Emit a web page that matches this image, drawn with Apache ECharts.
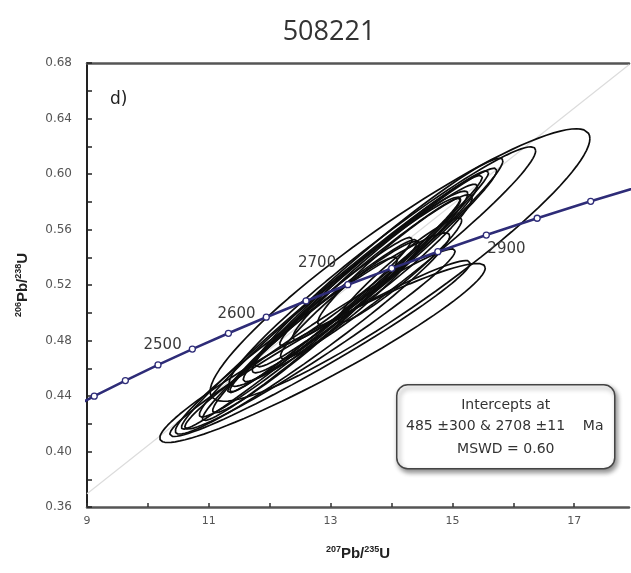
<!DOCTYPE html>
<html>
<head>
<meta charset="utf-8">
<script src="https://cdn.jsdelivr.net/npm/echarts@6/dist/echarts.min.js"></script>
<style>html,body{margin:0;padding:0;background:#fff}#c{width:631px;height:573px}</style>
</head>
<body>
<div id="c"></div>
<script>
// Concordia curve points (age in Ma, 207Pb/235U, 206Pb/238U)
const concAges = [2300, 2350, 2400, 2450, 2500, 2550, 2600, 2650, 2700, 2750, 2800, 2850, 2900, 2950, 3000];
const concX = [8.633, 9.119, 9.630, 10.166, 10.730, 11.322, 11.944, 12.597, 13.283, 14.004, 14.761, 15.557, 16.392, 17.271, 18.193];
const concY = [0.4287, 0.4399, 0.4511, 0.4624, 0.4738, 0.4852, 0.4968, 0.5085, 0.5202, 0.5320, 0.5440, 0.5560, 0.5681, 0.5803, 0.5926];
const labelledAges = [2500, 2600, 2700, 2900];

// Discordia (reference) line end points
const discX = [9, 17.9];
const discY = [0.3695, 0.6787];

// Error ellipses: centre, sigma x, sigma y, correlation
const ellCx  = [12.867, 14.140, 13.852, 13.795, 13.828, 12.703, 12.990, 13.236, 13.483, 13.647, 12.826, 12.580, 13.893, 14.057, 13.319, 13.072, 12.662, 14.140, 12.826, 12.826];
const ellCy  = [0.4710, 0.5344, 0.5333, 0.5362, 0.5377, 0.4850, 0.5041, 0.5128, 0.5222, 0.5272, 0.4984, 0.4840, 0.5366, 0.5380, 0.5092, 0.5092, 0.4876, 0.5308, 0.4742, 0.4811];
const ellSx  = [2.673, 3.118, 2.516, 2.034, 1.663, 2.253, 2.146, 1.891, 1.770, 2.083, 1.515, 1.517, 1.517, 1.268, 1.141, 2.522, 1.767, 1.014, 2.467, 2.221];
const ellSy  = [0.0645, 0.0982, 0.0863, 0.0752, 0.0614, 0.0725, 0.0793, 0.0698, 0.0655, 0.0770, 0.0560, 0.0561, 0.0561, 0.0471, 0.0423, 0.0931, 0.0653, 0.0376, 0.0634, 0.0649];
const ellRho = [0.950, 0.928, 0.968, 0.975, 0.980, 0.970, 0.980, 0.987, 0.971, 0.980, 0.980, 0.971, 0.971, 0.955, 0.955, 0.987, 0.980, 0.955, 0.972, 0.977];

// Axis ticks
const yTicks = [0.36, 0.40, 0.44, 0.48, 0.52, 0.56, 0.60, 0.64, 0.68];
const xTickLabels = [9, 11, 13, 15, 17];

const chart = echarts.init(document.getElementById('c'), null, {renderer: 'canvas'});

const FONT = 'DejaVu Sans, Verdana, sans-serif';

const labelStyle = {
  2500: {position: 'left', distance: 7, offset: [0, -4]},
  2600: {position: 'left', distance: 7, offset: [0, -3]},
  2700: {position: 'left', distance: 8, offset: [0, -22]},
  2900: {position: 'left', distance: 8, offset: [0, 31]}
};

const concData = concAges.map((a, i) => {
  const item = {value: [concX[i], concY[i]]};
  if (labelledAges.indexOf(a) >= 0) {
    item.label = Object.assign({show: true, formatter: String(a), color: '#3a3a3a', fontSize: 15, fontFamily: FONT}, labelStyle[a]);
  }
  return item;
});

const N = 100;
const ellSeries = ellCx.map((cx, k) => {
  const pts = [];
  const s = Math.sqrt(1 - ellRho[k] * ellRho[k]);
  for (let j = 0; j <= N; j++) {
    const t = 2 * Math.PI * j / N;
    pts.push([cx + ellSx[k] * Math.cos(t), ellCy[k] + ellSy[k] * (ellRho[k] * Math.cos(t) + s * Math.sin(t))]);
  }
  return {
    type: 'line', data: pts, showSymbol: false, symbol: 'none', silent: true,
    lineStyle: {color: '#0d0d0d', width: 1.7}, z: 3, animation: false
  };
});

const supRich = {
  sup: {fontSize: 9, fontWeight: 'bold', color: '#222', verticalAlign: 'top', padding: [0, 0, 8, 0], fontFamily: 'Liberation Sans, Arial'},
  n: {fontSize: 15, fontWeight: 'bold', color: '#222', fontFamily: 'Liberation Sans, Arial'}
};

const option = {
  backgroundColor: '#fff',
  animation: false,
  title: {
    text: '508221', left: 324, top: 14, textAlign: 'center',
    textStyle: {fontSize: 27, fontWeight: 'normal', color: '#333', fontFamily: 'Open Sans, Noto Sans, sans-serif'}
  },
  grid: {left: 87, right: 2, top: 63, bottom: 66},
  xAxis: [{
    type: 'value', min: 9, max: 17.9, interval: 1,
    name: '{sup|207}{n|Pb/}{sup|235}{n|U}', nameLocation: 'middle', nameGap: 38,
    nameTextStyle: {rich: supRich},
    axisLine: {show: true, lineStyle: {color: '#555', width: 2.5}},
    axisTick: {show: true, inside: true, length: 4, lineStyle: {color: '#333', width: 1.5}},
    axisLabel: {
      color: '#555', fontSize: 11, margin: 9, fontFamily: FONT,
      showMaxLabel: false,
      formatter: v => (xTickLabels.indexOf(Math.round(v)) >= 0 && Math.abs(v - Math.round(v)) < 1e-6) ? String(Math.round(v)) : ''
    },
    splitLine: {show: false}
  }, {
    type: 'value', position: 'top', min: 9, max: 17.9,
    axisLine: {show: true, onZero: false, lineStyle: {color: '#555', width: 2.5}},
    axisTick: {show: false}, axisLabel: {show: false}, splitLine: {show: false}
  }],
  yAxis: {
    type: 'value', min: 0.36, max: 0.68, interval: 0.04,
    name: '{sup|206}{n|Pb/}{sup|238}{n|U}', nameLocation: 'middle', nameGap: 56, nameRotate: 90,
    nameTextStyle: {rich: supRich},
    axisLine: {show: true, lineStyle: {color: '#222', width: 2}},
    axisTick: {show: true, inside: true, length: 5, lineStyle: {color: '#222', width: 1.5}},
    minorTick: {show: true, splitNumber: 2, length: 5, lineStyle: {color: '#222', width: 1.5}},
    axisLabel: {color: '#555', fontSize: 12, margin: 15, fontFamily: FONT, formatter: v => v.toFixed(2)},
    splitLine: {show: false}
  },
  series: [
    {
      type: 'line', data: discX.map((x, i) => [x, discY[i]]), showSymbol: false, symbol: 'none', silent: true,
      lineStyle: {color: '#dcdcdc', width: 1.2}, z: 1
    },
    ...ellSeries,
    {
      type: 'line', data: concData, symbol: 'circle', symbolSize: 6, showSymbol: true, silent: true,
      lineStyle: {color: '#2e2c78', width: 2.6},
      itemStyle: {color: '#fff', borderColor: '#2e2c78', borderWidth: 1.3},
      z: 5
    }
  ],
  graphic: [
    {type: 'text', left: 110, top: 91, style: {text: 'd)', fontSize: 17, fill: '#222', fontFamily: FONT}},
    {
      type: 'group', left: 396, top: 384, children: [
        {type: 'rect', shape: {x: 0, y: 0, width: 218, height: 84, r: 11},
          style: {fill: '#fff', stroke: '#444', lineWidth: 1.5, shadowBlur: 5, shadowOffsetX: 2, shadowOffsetY: 3, shadowColor: 'rgba(0,0,0,0.45)'}},
        {type: 'text', x: 109, y: 21, style: {text: 'Intercepts at', textAlign: 'center', textVerticalAlign: 'middle', fontSize: 14, fill: '#333', fontFamily: FONT}},
        {type: 'text', x: 108, y: 42, style: {text: '485 ±300 & 2708 ±11    Ma', textAlign: 'center', textVerticalAlign: 'middle', fontSize: 14, fill: '#333', fontFamily: FONT}},
        {type: 'text', x: 109, y: 65, style: {text: 'MSWD = 0.60', textAlign: 'center', textVerticalAlign: 'middle', fontSize: 14, fill: '#333', fontFamily: FONT}}
      ]
    }
  ]
};
chart.setOption(option);
</script>
</body>
</html>
